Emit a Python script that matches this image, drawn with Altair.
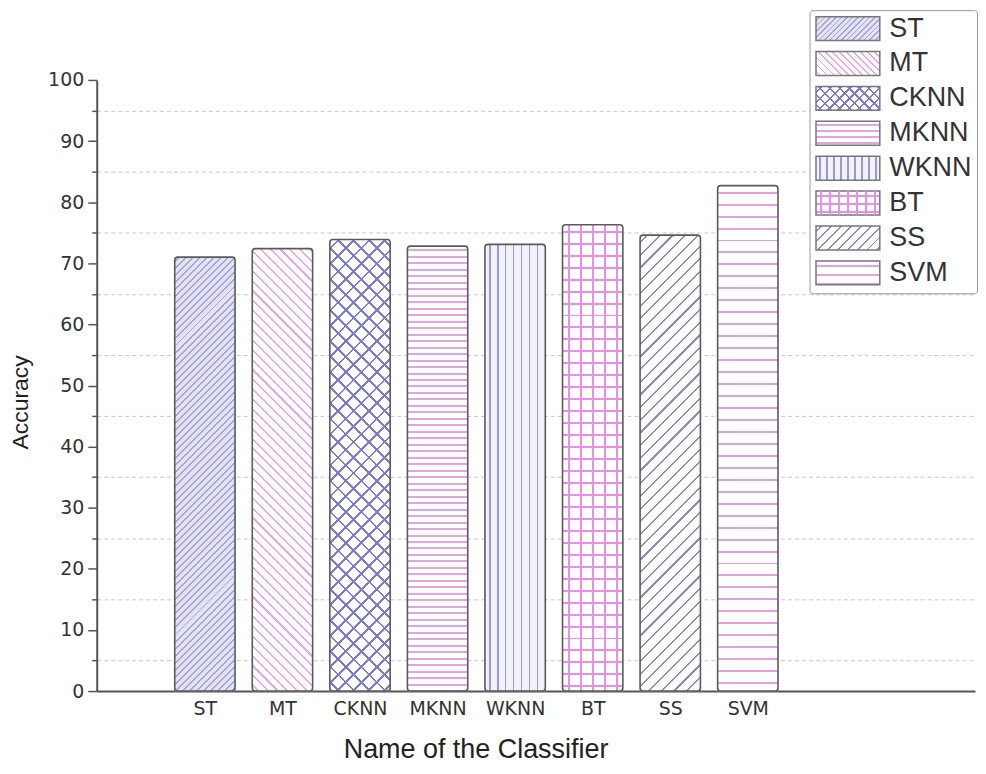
import json
import math
import altair as alt
import pandas as pd

# ---------------- data ----------------
categories = ["ST", "MT", "CKNN", "MKNN", "WKNN", "BT", "SS", "SVM"]
accuracy = [71.0, 72.4, 73.9, 72.8, 73.1, 76.3, 74.6, 82.7]
y_major_ticks = [0, 10, 20, 30, 40, 50, 60, 70, 80, 90, 100]
y_minor_ticks = [5, 15, 25, 35, 45, 55, 65, 75, 85, 95]

# ---------------- layout ----------------
PLOT_W = 881
PLOT_H = 613
X_DOMAIN = [-0.3946, 10.9294]          # category slots 1..8 on a numeric axis
HALF = 0.389                           # half bar width, in slot units
PX_PER_UNIT = PLOT_W / (X_DOMAIN[1] - X_DOMAIN[0])
BAND_W = 2 * HALF * PX_PER_UNIT
LEG_W, LEG_H = 64.0, 24.0

# hatch styles: (kind, period px, line px, line colour, background colour)
base_style = {
    "ST": ("d", 5.0, 1.4, "#a4a4d4", "#e2e2f3"),
    "MT": ("b", 7.0, 1.5, "#e8a8e8", "#ffffff"),
    "CKNN": ("d", 11.0, 2.0, "#7c7cd0", "#ffffff"),
    "MKNN": ("h", 6.5, 2.0, "#e4a4e4", "#ffffff"),
    "WKNN": ("v", 8.0, 1.6, "#9a9ad0", "#f2f2fb"),
    "BT": ("h", 12.0, 2.0, "#e890e8", "#ffffff"),
    "SS": ("d", 9.0, 1.6, "#8c8cc2", "#ffffff"),
    "SVM": ("h", 12.0, 2.0, "#e2a2e2", "#ffffff"),
}
over_style = {
    "CKNN": ("b", 11.0, 2.0, "#7c7cd0"),
    "BT": ("v", 12.0, 2.0, "#e890e8"),
}
leg_base_style = {
    "ST": ("d", 4.0, 1.2, "#a4a4d4", "#e2e2f3"),
    "MT": ("b", 5.0, 1.3, "#e8a8e8", "#ffffff"),
    "CKNN": ("d", 7.0, 1.6, "#7c7cd0", "#ffffff"),
    "MKNN": ("h", 6.0, 1.6, "#e4a4e4", "#ffffff"),
    "WKNN": ("v", 7.0, 1.4, "#9a9ad0", "#f2f2fb"),
    "BT": ("h", 8.0, 1.8, "#e890e8", "#ffffff"),
    "SS": ("d", 7.0, 1.4, "#8c8cc2", "#ffffff"),
    "SVM": ("h", 9.0, 1.8, "#e2a2e2", "#ffffff"),
}
leg_over_style = {
    "CKNN": ("b", 7.0, 1.6, "#7c7cd0"),
    "BT": ("v", 9.0, 1.8, "#e890e8"),
}
CLEAR = "rgba(255,255,255,0)"


def hatch(kind, w, h, period, lw, fg, bg):
    if kind == "h":
        x1, y1, x2, y2, span, per, lin = 0, 0, 0, 1, h, period, lw
    elif kind == "v":
        x1, y1, x2, y2, span, per, lin = 0, 0, 1, 0, w, period, lw
    else:
        r = h / w
        a = (1 + r) / (1 + r * r)
        b = a * r
        span, per, lin = w + h, period * math.sqrt(2), lw * math.sqrt(2)
        if kind == "d":
            x1, y1, x2, y2 = 0, 0, a, b
        else:
            x1, y1, x2, y2 = 0, 1, a, 1 - b
    pt, lt = per / span, lin / span
    stops = [{"offset": 0, "color": bg}]
    t = pt / 2
    while t < 1:
        e = min(1.0, t + lt)
        for off, col in ((t, bg), (t, fg), (e, fg), (e, bg)):
            stops.append({"offset": round(off, 5), "color": col})
        t += pt
    stops.append({"offset": 1, "color": bg})
    return {"gradient": "linear", "x1": round(x1, 5), "y1": round(y1, 5),
            "x2": round(x2, 5), "y2": round(y2, 5), "stops": stops}


slots = list(range(1, len(categories) + 1))
df = pd.DataFrame({"c": categories, "v": accuracy, "pos": slots})

xscale = alt.Scale(domain=X_DOMAIN, nice=False, zero=False, padding=0)
label_expr = "%s[datum.value - 1]" % json.dumps(categories)
x_axis = alt.Axis(values=slots, labelExpr=label_expr, ticks=False, tickSize=0,
                  labelPadding=9, labelAngle=0, grid=False,
                  labelFont="DejaVu Sans", labelFontSize=19, labelColor="#333333",
                  domainColor="#555555", domainWidth=2,
                  titleFont="Liberation Sans", titleFontSize=27, titleFontWeight="normal",
                  titleColor="#222222", titleX=380, titleY=67, titleAlign="center",
                  titleBaseline="alphabetic")
yscale = alt.Scale(domain=[0, 100], nice=False, zero=True, padding=0)


def base_chart():
    return alt.Chart(df).transform_calculate(
        x0=f"datum.pos - {HALF}", x1=f"datum.pos + {HALF}", z="0")


# base bars: first hatch direction
base_cond = []
for c, v in zip(categories, accuracy):
    k, p, lw, fg, bg = base_style[c]
    base_cond.append({"test": f"datum.c === '{c}'",
                      "value": hatch(k, BAND_W, v * PLOT_H / 100, p, lw, fg, bg)})
base = base_chart().mark_bar(strokeWidth=0, cornerRadius=3).encode(
    x=alt.X("x0:Q", scale=xscale, title="Name of the Classifier", axis=x_axis),
    x2="x1:Q",
    y=alt.Y("v:Q", scale=yscale, title="Accuracy",
            axis=alt.Axis(values=y_major_ticks, orient="left", tickSize=9, tickWidth=1.5,
                          tickColor="#555555", domainColor="#555555", domainWidth=2,
                          labelFont="DejaVu Sans", labelFontSize=19, labelColor="#333333",
                          labelPadding=4, grid=False,
                          titleFont="Liberation Sans", titleFontSize=23,
                          titleFontWeight="normal", titleColor="#222222", titleAngle=270,
                          titleX=-69, titleY=323, titleAlign="center",
                          titleBaseline="alphabetic")),
    y2="z:Q",
    fill=alt.FillValue(value="white", condition=base_cond),
)

# overlay bars: second hatch direction + outline
over_cond = []
for c, v in zip(categories, accuracy):
    if c in over_style:
        k, p, lw, fg = over_style[c]
        over_cond.append({"test": f"datum.c === '{c}'",
                          "value": hatch(k, BAND_W, v * PLOT_H / 100, p, lw, fg, CLEAR)})
over = base_chart().mark_bar(stroke="#5a5a5a", strokeWidth=1.6, cornerRadius=3).encode(
    x=alt.X("x0:Q", scale=xscale, axis=None),
    x2="x1:Q",
    y=alt.Y("v:Q", scale=yscale,
            axis=alt.Axis(values=y_minor_ticks, orient="left", tickSize=5, tickWidth=1.5,
                          tickColor="#555555", labels=False, domain=False, title=None,
                          grid=True, gridDash=[4, 3], gridColor="#c8c8d2", gridWidth=1)),
    y2="z:Q",
    fill=alt.FillValue(value=CLEAR, condition=over_cond),
)

# legends (zero-height bars hidden under the real bars, so only the legend shows)
leg_common = dict(title=None, orient="none", legendX=715, legendY=-70,
                  symbolType="M-1,-1H4.3333V1H-1Z", symbolSize=576,
                  labelFont="Liberation Sans", labelFontSize=27, labelOffset=48,
                  rowPadding=4, padding=5, labelLimit=300)
leg1_range = []
leg2_range = []
for c in categories:
    k, p, lw, fg, bg = leg_base_style[c]
    leg1_range.append({"expr": json.dumps(hatch(k, LEG_W, LEG_H, p, lw, fg, bg))})
    if c in leg_over_style:
        k, p, lw, fg = leg_over_style[c]
        leg2_range.append({"expr": json.dumps(hatch(k, LEG_W, LEG_H, p, lw, fg, CLEAR))})
    else:
        leg2_range.append({"expr": json.dumps(CLEAR)})

leg1 = base_chart().mark_bar(stroke="#777777", strokeWidth=2).encode(
    x=alt.X("x0:Q", scale=xscale, axis=None),
    x2="x1:Q",
    y=alt.Y("z:Q", scale=yscale, axis=None),
    y2="z:Q",
    fill=alt.Fill("c:N", scale=alt.Scale(domain=categories, range=leg1_range),
                  legend=alt.Legend(strokeColor="#9a9a9a", fillColor="white",
                                    cornerRadius=3, labelColor="#333333", zindex=1,
                                    **leg_common)),
)
leg2 = base_chart().mark_bar(stroke="transparent", strokeWidth=2).encode(
    x=alt.X("x0:Q", scale=xscale, axis=None),
    x2="x1:Q",
    y=alt.Y("z:Q", scale=yscale, axis=None),
    y2="z:Q",
    fill=alt.Fill("c:N", scale=alt.Scale(domain=categories, range=leg2_range),
                  legend=alt.Legend(labelOpacity=0, labelColor="#333333", zindex=2,
                                    **leg_common)),
)

chart = alt.layer(leg1, leg2, base, over).resolve_scale(
    fill="independent").resolve_axis(y="independent", x="independent").resolve_legend(
    fill="independent").properties(
    width=PLOT_W, height=PLOT_H,
    padding={"left": 2, "top": 0, "right": 0, "bottom": 0},
    background="white",
).configure_view(stroke=None)

chart.save("out.html", embed_options={"renderer": "svg", "actions": False})
